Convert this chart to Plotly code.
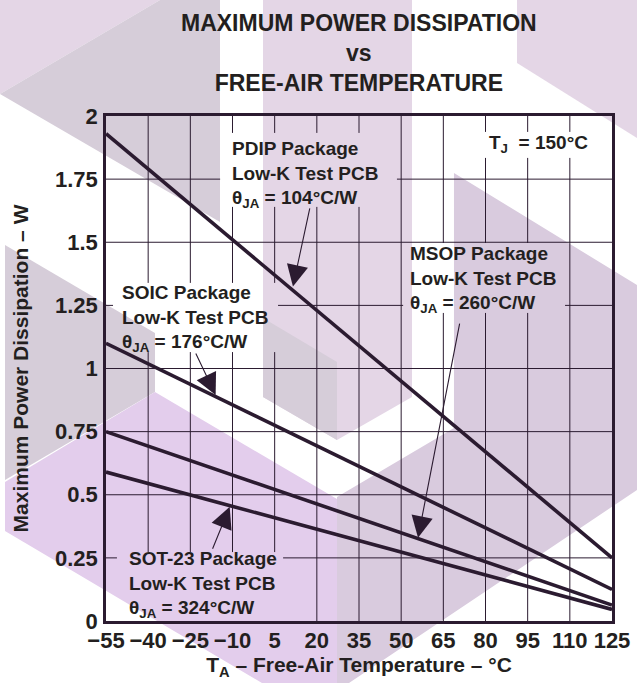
import plotly.graph_objects as go

# Values (straight lines from -55 to 125 degC)
temps = [-55, 125]
pdip = [1.93, 0.25]
soic = [1.10, 0.125]
msop = [0.75, 0.063]
sot23 = [0.59, 0.046]

x_ticks = [-55, -40, -25, -10, 5, 20, 35, 50, 65, 80, 95, 110, 125]
x_labels = ["\u221255", "\u221240", "\u221225", "\u221210", "5", "20", "35", "50",
            "65", "80", "95", "110", "125"]
y_ticks = [0, 0.25, 0.5, 0.75, 1, 1.25, 1.5, 1.75, 2]
y_labels = ["0", "0.25", "0.5", "0.75", "1", "1.25", "1.5", "1.75", "2"]

INK = "#2b1b30"
TXT = "#231f20"
FONT = "Liberation Sans, Arial, sans-serif"

W, H = 637, 683
ML, MR, MT, MB = 106, 25, 116, 62
PW, PH = W - ML - MR, H - MT - MB

# watermark pieces (page pixels)
PINK, GRAY, LAV, GRAY2 = "#e4d6e6", "#d6cdd9", "#e3cdec", "#d9cbde"
watermark = [
    (PINK, [(0, 0), (160, 0), (0, 94)]),
    (GRAY, [(160, 0), (220, 0), (220, 222), (0, 94)]),
    (PINK, [(263, 0), (412, 0), (412, 397), (337, 440), (263, 397)]),
    (GRAY, [(263, 318), (337, 362), (337, 440), (263, 397)]),
    (PINK, [(517, 0), (637, 0), (637, 138), (517, 63)]),
    (GRAY, [(5, 245), (155, 333), (155, 392), (5, 480)]),
    (LAV, [(5, 482), (155, 392), (337, 499), (337, 683), (262, 683), (5, 531)]),
    (GRAY2, [(454, 173), (637, 285), (637, 490), (349, 683), (337, 683),
             (337, 497), (454, 428)]),
]


def to_paper(px, py):
    return (px - ML) / PW, (MT + PH - py) / PH


shapes = []
for col, pts in watermark:
    path = "M " + " L ".join("%.4f,%.4f" % to_paper(px, py) for px, py in pts) + " Z"
    shapes.append(dict(type="path", path=path, xref="paper", yref="paper",
                       fillcolor=col, line=dict(width=0), layer="below"))

# grid lines are broken where the labels sit: (x0, x1, y0, y1) in data units
boxes = [
    (-14.4, 48.5, 1.640, 1.933),   # PDIP
    (78.0, 117.2, 1.834, 1.937),   # TJ
    (50.7, 108.3, 1.220, 1.497),   # MSOP
    (-52.5, 6.2, 1.065, 1.339),    # SOIC
    (-51.1, 8.0, -0.01, 0.273),    # SOT-23
]


def pieces(lo, hi, cuts):
    out, cur = [], lo
    for a, b in sorted(cuts):
        if b <= cur or a >= hi:
            continue
        if a > cur:
            out.append((cur, a))
        cur = max(cur, b)
    if cur < hi:
        out.append((cur, hi))
    return out


grid = dict(color=INK, width=1)
for xv in x_ticks[1:-1]:
    cuts = [(b[2], b[3]) for b in boxes if b[0] <= xv <= b[1]]
    for a, b in pieces(0, 2, cuts):
        shapes.append(dict(type="line", xref="x", yref="y", x0=xv, x1=xv, y0=a, y1=b,
                           line=grid, layer="below"))
for yv in y_ticks[1:-1]:
    cuts = [(b[0], b[1]) for b in boxes if b[2] <= yv <= b[3]]
    for a, b in pieces(-55, 125, cuts):
        shapes.append(dict(type="line", xref="x", yref="y", x0=a, x1=b, y0=yv, y1=yv,
                           line=grid, layer="below"))

fig = go.Figure()
for name, vals in [("PDIP", pdip), ("SOIC", soic), ("MSOP", msop), ("SOT-23", sot23)]:
    fig.add_trace(go.Scatter(x=temps, y=vals, mode="lines", name=name,
                             line=dict(color=INK, width=3.6), showlegend=False))

lab_font = dict(family=FONT, size=19, color=TXT, weight="bold")
labels = [
    (-10.9, 1.768, "PDIP Package<br>Low-K Test PCB<br>\u03b8<sub>JA</sub> = 104\u00b0C/W"),
    (-50.0, 1.200, "SOIC Package<br>Low-K Test PCB<br>\u03b8<sub>JA</sub> = 176\u00b0C/W"),
    (52.4, 1.352, "MSOP Package<br>Low-K Test PCB<br>\u03b8<sub>JA</sub> = 260\u00b0C/W"),
    (-47.5, 0.143, "SOT-23 Package<br>Low-K Test PCB<br>\u03b8<sub>JA</sub> = 324\u00b0C/W"),
    (80.5, 1.889, "T<sub>J</sub>  = 150\u00b0C"),
]
annotations = []
for x, y, t in labels:
    annotations.append(dict(x=x, y=y, xref="x", yref="y", text=t, showarrow=False,
                            xanchor="left", yanchor="middle", align="left", font=lab_font))

# title as a paper annotation so the three lines sit where they should
annotations.append(dict(text="MAXIMUM POWER DISSIPATION<br>vs<br>FREE-AIR TEMPERATURE",
                        x=0.5, y=(MT + PH - 53) / PH, xref="paper", yref="paper",
                        xanchor="center", yanchor="middle", showarrow=False,
                        font=dict(family=FONT, size=23, color=TXT, weight="bold")))

# leader arrows: (tail x, tail y, head x, head y)
arrows = [
    (17.6, 1.64, 11.5, 1.325),
    (-23.3, 1.065, -16.0, 0.895),
    (70.9, 1.184, 56.0, 0.33),
    (-17.3, 0.28, -11.0, 0.452),
]
for ax, ay, x, y in arrows:
    annotations.append(dict(x=x, y=y, ax=ax, ay=ay, xref="x", yref="y", axref="x",
                            ayref="y", text="", showarrow=True, arrowhead=2,
                            arrowsize=3.9, arrowwidth=1.1, arrowcolor=INK, standoff=0))

axis_common = dict(showgrid=False, zeroline=False, showline=True, mirror=True,
                   linecolor=INK, linewidth=2.5, ticks="", fixedrange=True,
                   tickfont=dict(family=FONT, size=22, color=TXT, weight="bold"))

fig.update_layout(
    width=W, height=H,
    margin=dict(l=ML, r=MR, t=MT, b=MB, autoexpand=False),
    paper_bgcolor="white", plot_bgcolor="rgba(0,0,0,0)",
    xaxis=dict(range=[-55, 125], tickvals=x_ticks, ticktext=x_labels,
               ticklabelstandoff=-2,
               title=dict(text="T<sub>A</sub> \u2013 Free-Air Temperature \u2013 \u00b0C",
                          standoff=4,
                          font=dict(family=FONT, size=21, color=TXT, weight="bold")),
               **axis_common),
    yaxis=dict(range=[0, 2], tickvals=y_ticks, ticktext=y_labels,
               ticklabelstandoff=1,
               title=dict(text="Maximum Power Dissipation \u2013 W", standoff=21,
                          font=dict(family=FONT, size=21, color=TXT, weight="bold")),
               **axis_common),
    shapes=shapes,
    annotations=annotations,
    showlegend=False,
)

fig.write_html("out.html", config={"displayModeBar": False},
               post_script="document.body.style.margin='0';")
